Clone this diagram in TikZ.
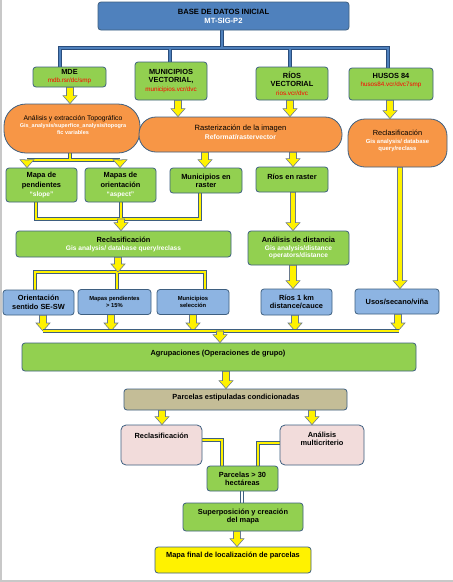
\documentclass[tikz,border=0pt]{standalone}
\usepackage{fontspec}
\setmainfont{Liberation Sans}
\usetikzlibrary{calc,backgrounds}
\definecolor{gfill}{HTML}{92D050}
\definecolor{ofill}{HTML}{F79646}
\definecolor{bfill}{HTML}{8DB4E2}
\definecolor{tfill}{HTML}{4F81BD}
\definecolor{pfill}{HTML}{F2DCDB}
\definecolor{kfill}{HTML}{C4BD97}
\definecolor{edge}{HTML}{3E5F80}
\definecolor{pipeo}{HTML}{2A4D7C}
\definecolor{redt}{HTML}{FF0000}
\definecolor{arre}{HTML}{6A7A8C}
\definecolor{pagel}{HTML}{C8C8C8}
\newcommand\fnb{\bfseries\fontsize{7.4}{8.6}\selectfont}
\newcommand\redtx[1]{{\color{redt}\mdseries\fontsize{6.3}{7.4}\selectfont #1}}
\newcommand\whtx[2][5.5]{{\color{white}\bfseries\fontsize{#1}{#1}\selectfont #2}}
\newcommand\blkarrow[4][3.5]{\path[yarrow] let \p1=(#3 -| #2,0), \p2=(#4 -| #2,0) in
  (\x1-#1pt,\y1) -- (\x1-#1pt,\y2+8pt) -- (\x1-7pt,\y2+8pt) -- (\x1,\y2) -- (\x1+7pt,\y2+8pt) -- (\x1+#1pt,\y2+8pt) -- (\x1+#1pt,\y1) -- cycle;}
\newcommand\mypipe[3]{\draw[line width=4.6pt,#1] #3; \draw[line width=2.6pt,#2] #3;}
\begin{document}
\begin{tikzpicture}[x=1pt,y=-1pt,
  box/.style={draw=edge, line width=0.8pt, rounded corners=3pt, inner sep=1pt, align=center, font=\fnb},
  gbox/.style={box, fill=gfill},
  obox/.style={box, fill=ofill},
  bbox/.style={box, fill=bfill},
  pbox/.style={box, fill=pfill, rounded corners=5pt},
  txt/.style={align=center, inner sep=0pt, font=\fnb},
  smallb/.style={font=\bfseries\fontsize{5.8}{7.6}\selectfont},
  yarrow/.style={fill=yellow, draw=arre, line width=0.6pt, line join=miter}]
\useasboundingbox (0,0) rectangle (453,582);
\begin{scope}[on background layer]
\fill[white] (0,0) rectangle (453,582);
\end{scope}
\fill[pagel] (0,0) rectangle (2,582);
\fill[pagel] (0,580) rectangle (453,582);

% row 0
\node[box, fill=tfill, minimum width=251pt, minimum height=28pt, font=\bfseries\fontsize{7.6}{9}\selectfont] (base) at (223.5,16) {BASE DE DATOS INICIAL\\{\color{white}MT-SIG-P2}};
% row 1
\node[gbox, minimum width=73pt, minimum height=20pt] (mde) at (69.5,77) {MDE\\[-0.5pt]\redtx{mdb.rsr/dc/smp}};
\node[gbox, minimum width=72pt, minimum height=38pt] (muni) at (171,81) {MUNICIPIOS\\VECTORIAL,\\\redtx{municipios.vcr/dvc}};
\node[gbox, minimum width=72pt, minimum height=33pt] (rios) at (292,83.5) {RÍOS\\VECTORIAL\\\redtx{rios.vcr/dvc}};
\node[gbox, minimum width=84pt, minimum height=32pt] (husos) at (391,84) {};
\node[txt] (husos-t) at (391,80.5) {HUSOS 84\\\redtx{husos84.vcr/dvc7smp}};
% orange row
\node[obox, rounded corners=22pt, minimum width=136pt, minimum height=49pt] (anal) at (72,128.5) {};
\node[txt] (anal-t) at (73,125) {{\mdseries\fontsize{6.8}{8}\selectfont Análisis y extracción Topográfico}\\[-1.6pt]\whtx{Gis\_analysis/superfice\_analysis/topogra}\\[-1.6pt]\whtx{fic variables}};
\node[obox, rounded corners=17pt, minimum width=203pt, minimum height=35pt] (rast) at (240.5,134.5) {};
\node[txt] (rast-t) at (240.5,132.5) {{\mdseries\fontsize{7.6}{8.6}\selectfont Rasterización de la imagen}\\\whtx[6.8]{Reformat/rastervector}};
\node[obox, rounded corners=17pt, minimum width=99pt, minimum height=48pt] (recl1) at (397.5,143) {};
\node[txt] (recl1-t) at (397.5,140.5) {{\mdseries\fontsize{7.4}{8.6}\selectfont Reclasificación}\\\whtx[5.9]{Gis analysis/ database}\\[-2pt]\whtx[5.9]{query/reclass}};
% row 2
\node[gbox, minimum width=71pt, minimum height=34pt] (slope) at (41.5,185) {Mapa de\\[1.2pt]pendientes\\[1.2pt]\whtx[6.6]{“slope”}};
\node[gbox, minimum width=71pt, minimum height=34pt] (aspect) at (120.5,185) {Mapas de\\[1.2pt]orientación\\[1.2pt]\whtx[6.6]{“aspect”}};
\node[gbox, minimum width=72pt, minimum height=25pt] (mraster) at (206,180.5) {Municipios en\\[-0.6pt]raster};
\node[gbox, minimum width=72pt, minimum height=25pt] (rraster) at (292,179.5) {};
\node[txt] (rraster-t) at (292,176.5) {Ríos en raster};
% row 3
\node[gbox, minimum width=215pt, minimum height=26pt] (recl2) at (123.5,244) {Reclasificación\\[-0.6pt]\whtx[6.6]{Gis analysis/ database query/reclass}};
\node[gbox, minimum width=101pt, minimum height=34pt] (dist) at (298.5,248) {Análisis de distancia\\[-0.6pt]\whtx[6.6]{Gis analysis/distance}\\[-1pt]\whtx[6.6]{operators/distance}};
% row 4 (blue)
\node[bbox, minimum width=71pt, minimum height=25pt] (orient) at (38.5,302.5) {Orientación\\sentido SE-SW};
\node[bbox, smallb, minimum width=73pt, minimum height=25pt] (pend15) at (114.5,302) {Mapas pendientes\\> 15\%};
\node[bbox, smallb, minimum width=72pt, minimum height=25pt] (munisel) at (193,302) {Municipios\\selección};
\node[bbox, minimum width=71pt, minimum height=26pt] (rios1) at (296.5,302) {Ríos 1 km\\distance/cauce};
\node[bbox, minimum width=84pt, minimum height=25pt] (usos) at (397,301.5) {Usos/secano/viña};
% lower part
\node[gbox, minimum width=394pt, minimum height=28pt] (agrup) at (219,357) {};
\node[txt] (agrup-t) at (218,353.5) {Agrupaciones (Operaciones de grupo)};
\node[box, fill=kfill, minimum width=223pt, minimum height=21pt] (parc) at (235.5,399.5) {};
\node[txt] (parc-t) at (236,398) {Parcelas estipuladas condicionadas};
\node[pbox, minimum width=81pt, minimum height=40pt] (reclp) at (161.5,445) {};
\node[txt] (reclp-t) at (161.5,435.5) {Reclasificación};
\node[pbox, minimum width=84pt, minimum height=40pt] (multi) at (322,445) {};
\node[txt] (multi-t) at (322,439) {Análisis\\[-0.6pt]multicriterio};
\node[gbox, minimum width=71pt, minimum height=25pt] (p30) at (242.5,478.5) {Parcelas > 30\\[-0.6pt]hectáreas};
\node[gbox, minimum width=120pt, minimum height=28pt] (super) at (243,517) {Superposición y creación\\[-0.6pt]del mapa};
\node[box, fill=yellow, minimum width=156pt, minimum height=26pt] (final) at (233,560) {};
\node[txt] (final-t) at (233,555.5) {Mapa final de localización de parcelas};

\coordinate (j0) at (222,48);
\coordinate (j1) at (70,160);
\coordinate (j2) at (121,219);
\coordinate (j3) at (118,272);
\coordinate (j4) at (220,331);

\begin{scope}[on background layer]
\mypipe{pipeo}{tfill}{(mde.north -| 60,0) -- (j0 -| 60,0) -- (j0 -| 388,0) -- (husos.north -| 388,0) (muni.north -| 170,0) -- (j0 -| 170,0) (rios.north -| 290,0) -- (j0 -| 290,0) (base.south -| j0) -- (j0)}
\blkarrow{70}{mde.south}{anal.north}
\blkarrow{178}{muni.south}{rast.north}
\blkarrow{290}{rios.south}{rast.north}
\blkarrow{390}{husos.south}{recl1.north}
\mypipe{edge}{yellow}{(anal.south -| j1) -- (j1) (j1 -| 27,0) -- (j1 -| 120,0)}
\blkarrow[2]{27}{j1}{slope.north}
\blkarrow[2]{120}{j1}{aspect.north}
\blkarrow{205}{rast.south}{mraster.north}
\blkarrow{293}{rast.south}{rraster.north}
\mypipe{edge}{yellow}{(slope.south -| 36,0) -- (j2 -| 36,0) -- (j2 -| 200,0) -- (mraster.south -| 200,0) (aspect.south -| j2) -- (j2)}
\blkarrow{121}{j2}{recl2.north}
\blkarrow[2.5]{293}{rraster.south}{dist.north}
\blkarrow[2.5]{400}{recl1.south}{usos.north}
\mypipe{edge}{yellow}{(orient.north -| 35,0) -- (j3 -| 35,0) -- (j3 -| 205,0) -- (munisel.north -| 205,0) (j3 -| 117,0) -- (pend15.north -| 117,0)}
\blkarrow{118}{recl2.south}{j3}
\blkarrow{293}{dist.south}{rios1.north}
\blkarrow{43}{orient.south}{j4}
\blkarrow{111}{pend15.south}{j4}
\blkarrow{193}{munisel.south}{j4}
\blkarrow{295}{rios1.south}{j4}
\blkarrow{398}{usos.south}{j4}
\mypipe{edge}{yellow}{(j4 -| 43,0) -- (j4 -| 399,0)}
\blkarrow{220}{j4}{agrup.north}
\blkarrow{226}{agrup.south}{parc.north}
\blkarrow{162}{parc.south}{reclp.north}
\blkarrow{312}{parc.south}{multi.north}
\mypipe{edge}{yellow}{(reclp.east |- 0,440) -| (p30.north -| 222,0)}
\mypipe{edge}{yellow}{(multi.west |- 0,443) -| (p30.north -| 258,0)}
\mypipe{edge}{white}{(p30.south -| 242,0) -- (super.north -| 242,0)}
\blkarrow{237}{super.south}{final.north}
\end{scope}
\end{tikzpicture}
\end{document}
